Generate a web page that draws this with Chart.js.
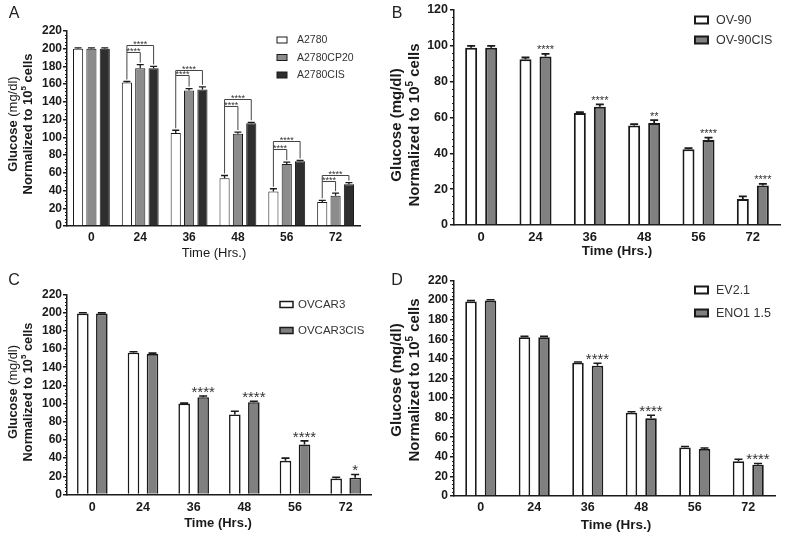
<!DOCTYPE html>
<html>
<head>
<meta charset="utf-8">
<script src="https://cdn.jsdelivr.net/npm/chart.js@4.4.1/dist/chart.umd.min.js"></script>
<style>
  html, body { margin: 0; padding: 0; background: #fff; }
  #wrap { position: relative; width: 787px; height: 538px; overflow: hidden; }
  #wrap canvas { position: absolute; left: 0; top: 0; }
</style>
</head>
<body>
<div id="wrap">
  <canvas id="chartA" width="787" height="538"></canvas>
  <canvas id="chartB" width="787" height="538"></canvas>
  <canvas id="chartC" width="787" height="538"></canvas>
  <canvas id="chartD" width="787" height="538"></canvas>
</div>
<script>
// time points (hrs)
const timePoints = ["0", "24", "36", "48", "56", "72"];

// A - A2780 lines
const a2780 = [200, 162, 105, 54, 39, 27];
const a2780Err = [1, 1, 3, 3, 3, 2];
const a2780cp20 = [200, 178, 153, 104, 70, 34];
const a2780cp20Err = [1, 4, 2, 2, 2, 3];
const a2780cis = [200, 178, 154, 116, 73, 47];
const a2780cisErr = [1, 2, 3, 1, 1, 2];
// significance brackets (mg/dl level of the bracket line)
const bracketInnerA = [null, 196, 170, 135, 87, 51];
const bracketOuterA = [null, 204, 176, 143, 96, 58];

// B - OV-90
const ov90 = [99, 92.5, 62.5, 55.5, 42.3, 14.5];
const ov90Err = [1, 1, 0.5, 0.8, 0.6, 1.5];
const ov90cis = [99, 94, 66, 57, 47.5, 22];
const ov90cisErr = [1, 1.5, 1.3, 1.5, 1.3, 1];
const starsB = ["", "****", "****", "**", "****", "****"];

// C - OVCAR3
const ovcar3 = [199, 156, 100, 88, 37, 17.5];
const ovcar3Err = [1, 1, 0.5, 3.5, 3, 1.5];
const ovcar3cis = [199, 154.5, 107, 101.5, 55, 18.5];
const ovcar3cisErr = [0.8, 1, 1.3, 1, 4, 3.5];
const starsC = ["", "", "****", "****", "****", "*"];

// D - EV2.1 / ENO1 1.5
const ev21 = [198.5, 162, 136, 85, 49.5, 35.5];
const ev21Err = [1, 1, 0.8, 1, 1, 2];
const eno1 = [199.5, 162, 133, 79.5, 48, 32];
const eno1Err = [0.8, 1, 2.5, 3, 1, 1.2];
const starsD = ["", "", "****", "****", "", "****"];

const FONT = "'Liberation Sans', Arial, Helvetica, sans-serif";
const INK = "#1a1a1a";
const W = 787, H = 538;

const fnt = (size, weight) => `${weight || "normal"} ${size}px ${FONT}`;

// rotated text made of several pieces (for the superscript)
const drawRotated = (ctx, cx, cy, parts) => {
    ctx.save();
    ctx.translate(cx, cy);
    ctx.rotate(-Math.PI / 2);
    let total = 0;
    parts.forEach((pt) => {
        ctx.font = pt.font;
        pt.w = ctx.measureText(pt.text).width;
        total += pt.w;
    });
    let x = -total / 2;
    ctx.textAlign = "left";
    ctx.textBaseline = "middle";
    ctx.fillStyle = INK;
    parts.forEach((pt) => {
        ctx.font = pt.font;
        ctx.fillText(pt.text, x, pt.dy || 0);
        x += pt.w;
    });
    ctx.restore();
};

const buildPanel = (p) => {
    const decor = {
        id: "decor" + p.letter,
        afterDatasetsDraw(chart) {
            const ctx = chart.ctx;
            const y = chart.scales.y;
            const area = chart.chartArea;

            // error bars (upper only)
            ctx.save();
            ctx.strokeStyle = INK;
            ctx.lineWidth = p.errWidth;
            p.series.forEach((s, di) => {
                chart.getDatasetMeta(di).data.forEach((bar, j) => {
                    const top = y.getPixelForValue(s.data[j] + s.err[j]);
                    ctx.beginPath();
                    ctx.moveTo(bar.x, bar.y);
                    ctx.lineTo(bar.x, top);
                    ctx.moveTo(bar.x - p.cap, top);
                    ctx.lineTo(bar.x + p.cap, top);
                    ctx.stroke();
                });
            });
            ctx.restore();

            // stars over the second series
            if (p.stars) {
                const s = p.series[1];
                ctx.save();
                ctx.font = fnt(p.starSize);
                ctx.fillStyle = "#333";
                ctx.textAlign = "center";
                ctx.textBaseline = "alphabetic";
                chart.getDatasetMeta(1).data.forEach((bar, j) => {
                    if (!p.stars[j]) return;
                    const top = y.getPixelForValue(s.data[j] + s.err[j]);
                    const c = top - p.starGap;
                    ctx.fillText(p.stars[j], bar.x, c + 0.58 * p.starSize);
                });
                ctx.restore();
            }

            // brackets (panel A)
            if (p.brackets) {
                const [w, g, d] = p.series;
                const mw = chart.getDatasetMeta(0).data;
                const mg = chart.getDatasetMeta(1).data;
                const md = chart.getDatasetMeta(2).data;
                ctx.save();
                ctx.strokeStyle = "#444";
                ctx.lineWidth = 1;
                ctx.fillStyle = "#333";
                ctx.font = fnt(9);
                ctx.textAlign = "center";
                ctx.textBaseline = "alphabetic";
                p.brackets.inner.forEach((lvl, j) => {
                    if (lvl == null) return;
                    const outer = p.brackets.outer[j];
                    const xw = mw[j].x, xg = mg[j].x, xd = md[j].x;
                    const yw = y.getPixelForValue(w.data[j] + w.err[j]) - 2;
                    const yg = y.getPixelForValue(g.data[j] + g.err[j]) - 2;
                    const yd = y.getPixelForValue(d.data[j] + d.err[j]) - 2;
                    const yi = Math.round(y.getPixelForValue(lvl)) + 0.5;
                    const yo = Math.round(y.getPixelForValue(outer)) + 0.5;
                    ctx.beginPath();
                    ctx.moveTo(xw, yw);
                    ctx.lineTo(xw, yo);
                    ctx.lineTo(xd, yo);
                    ctx.lineTo(xd, yd);
                    ctx.moveTo(xw, yi);
                    ctx.lineTo(xg, yi);
                    ctx.lineTo(xg, yg);
                    ctx.stroke();
                    ctx.fillText("****", (xw + xd) / 2, yo + 1);
                    ctx.fillText("****", (xw + xg) / 2, yi + 1);
                });
                ctx.restore();
            }

            // minor ticks on the y axis
            ctx.save();
            ctx.strokeStyle = INK;
            ctx.lineWidth = 1;
            for (let v = 0; v <= p.yMax; v += 4) {
                if (v % 20 === 0) continue;
                const py = Math.round(y.getPixelForValue(v)) + 0.5;
                ctx.beginPath();
                ctx.moveTo(area.left - 2, py);
                ctx.lineTo(area.left, py);
                ctx.stroke();
            }
            ctx.restore();
        },
        afterDraw(chart) {
            const ctx = chart.ctx;
            const lg = p.legend;

            // legend
            ctx.save();
            p.series.forEach((s, i) => {
                const ry = lg.rows[i];
                ctx.fillStyle = s.color;
                ctx.fillRect(lg.x, ry - lg.h / 2, lg.w, lg.h);
                ctx.strokeStyle = INK;
                ctx.lineWidth = lg.lw;
                ctx.strokeRect(lg.x, ry - lg.h / 2, lg.w, lg.h);
                ctx.fillStyle = "#333";
                ctx.font = fnt(lg.size);
                ctx.textAlign = "left";
                ctx.textBaseline = "middle";
                ctx.fillText(s.label, lg.tx, ry + 0.5);
            });

            // panel letter
            ctx.fillStyle = "#222";
            ctx.font = fnt(16);
            ctx.textAlign = "center";
            ctx.textBaseline = "middle";
            ctx.fillText(p.letter, p.letterPos[0], p.letterPos[1]);

            // x title
            ctx.fillStyle = INK;
            ctx.font = fnt(p.xTitle.size, p.xTitle.weight);
            ctx.fillText("Time (Hrs.)", p.xTitle.x, p.xTitle.y);
            ctx.restore();

            // y title, two lines
            const yt = p.yTitle;
            drawRotated(ctx, yt.x1, yt.cy, [
                { text: "Glucose ", font: fnt(yt.size, "bold") },
                { text: "(mg/dl)", font: fnt(yt.size, yt.unitWeight) },
            ]);
            drawRotated(ctx, yt.x2, yt.cy, [
                { text: "Normalized to 10", font: fnt(yt.size, "bold") },
                { text: "5", font: fnt(Math.round(yt.size * 0.65), "bold"), dy: -yt.size * 0.35 },
                { text: " cells", font: fnt(yt.size, "bold") },
            ]);
        },
    };

    return new Chart(document.getElementById(p.id), {
        type: "bar",
        data: {
            labels: timePoints,
            datasets: p.series.map((s) => ({
                label: s.label,
                data: s.data,
                backgroundColor: s.color,
                borderColor: INK,
                borderWidth: p.borderWidth,
                categoryPercentage: p.catPct,
                barPercentage: p.barPct,
            })),
        },
        options: {
            responsive: false,
            animation: false,
            devicePixelRatio: 1,
            layout: {
                padding: {
                    left: p.area.left - p.yWidth,
                    top: p.area.top,
                    right: W - p.area.right,
                    bottom: H - p.area.bottom - p.xHeight,
                },
            },
            plugins: {
                legend: { display: false },
                tooltip: { enabled: false },
            },
            scales: {
                x: {
                    offset: true,
                    grid: { display: true, drawOnChartArea: false, drawTicks: false },
                    border: { color: INK, width: 1.5 },
                    ticks: {
                        color: INK,
                        font: { family: FONT, size: p.xTickSize, weight: "bold" },
                        padding: p.xTickPad,
                        maxRotation: 0,
                        autoSkip: false,
                    },
                    afterFit: (s) => { s.height = p.xHeight; },
                },
                y: {
                    min: 0,
                    max: p.yMax,
                    ticks: {
                        stepSize: 20,
                        color: INK,
                        font: { family: FONT, size: p.yTickSize, weight: "bold" },
                        padding: p.yTickPad,
                    },
                    grid: { drawOnChartArea: false, drawTicks: true, tickLength: 4, color: INK, lineWidth: 1.5 },
                    border: { color: INK, width: 1.5 },
                    afterFit: (s) => { s.width = p.yWidth; },
                },
            },
        },
        plugins: [decor],
    });
};

buildPanel({
    id: "chartA", letter: "A", letterPos: [14, 14],
    series: [
        { label: "A2780", data: a2780, err: a2780Err, color: "#ffffff" },
        { label: "A2780CP20", data: a2780cp20, err: a2780cp20Err, color: "#8c8c8c" },
        { label: "A2780CIS", data: a2780cis, err: a2780cisErr, color: "#2e2e2e" },
    ],
    brackets: { inner: bracketInnerA, outer: bracketOuterA },
    area: { left: 67, top: 31, right: 360, bottom: 226 },
    yWidth: 67, xHeight: 30, yMax: 220,
    catPct: 0.82, barPct: 0.76, borderWidth: 1, errWidth: 1.3, cap: 3.5,
    xTickSize: 12, xTickPad: 4, yTickSize: 12, yTickPad: 1,
    legend: { x: 277, w: 10, h: 6, lw: 1, tx: 297, size: 10.5, rows: [40, 57.5, 75] },
    xTitle: { x: 214, y: 253, size: 13, weight: "normal" },
    yTitle: { x1: 13, x2: 28.5, cy: 124, size: 13, unitWeight: "normal" },
});

buildPanel({
    id: "chartB", letter: "B", letterPos: [397, 14],
    series: [
        { label: "OV-90", data: ov90, err: ov90Err, color: "#ffffff" },
        { label: "OV-90CIS", data: ov90cis, err: ov90cisErr, color: "#808080" },
    ],
    stars: starsB, starSize: 11, starGap: 7,
    area: { left: 454, top: 10, right: 780, bottom: 225 },
    yWidth: 60, xHeight: 30, yMax: 120,
    catPct: 0.737, barPct: 0.6, borderWidth: 2, errWidth: 1.8, cap: 4,
    xTickSize: 13, xTickPad: 5, yTickSize: 12.5, yTickPad: 2,
    legend: { x: 695, w: 13, h: 7, lw: 2, tx: 716, size: 12.5, rows: [20, 40] },
    xTitle: { x: 617, y: 251, size: 13.5, weight: "bold" },
    yTitle: { x1: 397, x2: 415, cy: 125, size: 15, unitWeight: "bold" },
});

buildPanel({
    id: "chartC", letter: "C", letterPos: [14, 281],
    series: [
        { label: "OVCAR3", data: ovcar3, err: ovcar3Err, color: "#ffffff" },
        { label: "OVCAR3CIS", data: ovcar3cis, err: ovcar3cisErr, color: "#808080" },
    ],
    stars: starsC, starSize: 15, starGap: 8,
    area: { left: 67, top: 294.5, right: 371, bottom: 494.5 },
    yWidth: 67, xHeight: 30, yMax: 220,
    catPct: 0.75, barPct: 0.61, borderWidth: 1.6, errWidth: 1.6, cap: 4,
    xTickSize: 12.5, xTickPad: 6, yTickSize: 12, yTickPad: 1,
    legend: { x: 280, w: 13, h: 6, lw: 1.5, tx: 298, size: 11.5, rows: [304.5, 330.5] },
    xTitle: { x: 218, y: 523, size: 13, weight: "bold" },
    yTitle: { x1: 13, x2: 28.5, cy: 392, size: 12.8, unitWeight: "normal" },
});

buildPanel({
    id: "chartD", letter: "D", letterPos: [397, 281],
    series: [
        { label: "EV2.1", data: ev21, err: ev21Err, color: "#ffffff" },
        { label: "ENO1 1.5", data: eno1, err: eno1Err, color: "#808080" },
    ],
    stars: starsD, starSize: 15, starGap: 8,
    area: { left: 454, top: 280.5, right: 775, bottom: 496 },
    yWidth: 60, xHeight: 30, yMax: 220,
    catPct: 0.73, barPct: 0.59, borderWidth: 1.8, errWidth: 1.6, cap: 4,
    xTickSize: 12.5, xTickPad: 4, yTickSize: 12, yTickPad: 2,
    legend: { x: 695, w: 13, h: 7, lw: 2, tx: 716, size: 12.5, rows: [290, 313] },
    xTitle: { x: 616, y: 525, size: 13.5, weight: "bold" },
    yTitle: { x1: 397, x2: 415, cy: 380, size: 15, unitWeight: "bold" },
});
</script>
</body>
</html>
